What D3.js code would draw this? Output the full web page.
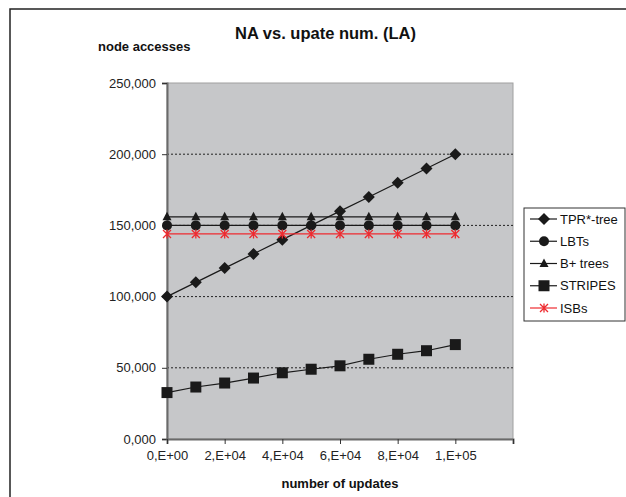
<!DOCTYPE html>
<html>
<head>
<meta charset="utf-8">
<script src="https://cdn.jsdelivr.net/npm/d3@7"></script>
<style>
  body { margin: 0; background: #fff; }
  svg { display: block; font-family: "Liberation Sans", Arial, sans-serif; }
</style>
</head>
<body>
<svg id="chart" width="626" height="497"></svg>
<script>
// data
const updates = [0, 10000, 20000, 30000, 40000, 50000, 60000, 70000, 80000, 90000, 100000]
const tprTree = [100000, 110000, 120000, 130000, 140000, 150000, 160000, 170000, 180000, 190000, 200000]
const lbts = [150000, 150000, 150000, 150000, 150000, 150000, 150000, 150000, 150000, 150000, 150000]
const bTrees = [156000, 156000, 156000, 156000, 156000, 156000, 156000, 156000, 156000, 156000, 156000]
const stripes = [32600, 36500, 39300, 42800, 46500, 49000, 51400, 56000, 59500, 62000, 66300]
const isbs = [144000, 144000, 144000, 144000, 144000, 144000, 144000, 144000, 144000, 144000, 144000]
const seriesNames = ["TPR*-tree", "LBTs", "B+ trees", "STRIPES", "ISBs"]
const yTicks = [0, 50000, 100000, 150000, 200000, 250000]
const yTickLabels = ["0,000", "50,000", "100,000", "150,000", "200,000", "250,000"]
const xTicks = [0, 20000, 40000, 60000, 80000, 100000, 120000]
const xTickLabels = ["0,E+00", "2,E+04", "4,E+04", "6,E+04", "8,E+04", "1,E+05", ""]

const series = [
  {name: seriesNames[0], values: tprTree, marker: "diamond", color: "#1a1a1a"},
  {name: seriesNames[1], values: lbts, marker: "circle", color: "#1a1a1a"},
  {name: seriesNames[2], values: bTrees, marker: "triangle", color: "#1a1a1a"},
  {name: seriesNames[3], values: stripes, marker: "square", color: "#1a1a1a"},
  {name: seriesNames[4], values: isbs, marker: "star", color: "#ee2a2f"}
]

const plot = {left: 167, top: 83, right: 513, bottom: 439}

const svg = d3.select("#chart")

// outer frame
svg.append("rect")
  .attr("x", 10).attr("y", 9)
  .attr("width", 640).attr("height", 520)
  .attr("fill", "none").attr("stroke", "#222").attr("stroke-width", 1.5)

const x = d3.scaleLinear().domain([0, 120000]).range([plot.left, plot.right])
const y = d3.scaleLinear().domain([0, 250000]).range([plot.bottom, plot.top])

// plot area
svg.append("rect")
  .attr("x", plot.left).attr("y", plot.top)
  .attr("width", plot.right - plot.left).attr("height", plot.bottom - plot.top)
  .attr("fill", "#c6c7c9").attr("stroke", "#a0a0a0").attr("stroke-width", 1)

// dotted gridlines
svg.append("g")
  .selectAll("line")
  .data(yTicks.filter(d => d > 0 && d < 250000))
  .join("line")
  .attr("x1", plot.left).attr("x2", plot.right)
  .attr("y1", d => y(d)).attr("y2", d => y(d))
  .attr("stroke", "#222").attr("stroke-dasharray", "2,2").attr("stroke-width", 1)

// axes
const yAxis = svg.append("g")
  .attr("transform", `translate(${plot.left},0)`)
  .call(d3.axisLeft(y).tickValues(yTicks).tickFormat((d, i) => yTickLabels[i]).tickSize(5).tickPadding(6))

const xAxis = svg.append("g")
  .attr("transform", `translate(0,${plot.bottom})`)
  .call(d3.axisBottom(x).tickValues(xTicks).tickFormat((d, i) => xTickLabels[i]).tickSize(5).tickPadding(7))

for (const ax of [yAxis, xAxis]) {
  ax.select(".domain").attr("stroke", "#6a6a6a").attr("stroke-width", 2)
  ax.selectAll(".tick line").attr("stroke", "#333")
  ax.selectAll("text").attr("fill", "#222").style("font-size", "13px")
}

// markers
function drawMarker(g, type, color) {
  if (type === "diamond") {
    g.append("path").attr("d", "M0,-6L6,0L0,6L-6,0Z").attr("fill", color)
  } else if (type === "circle") {
    g.append("circle").attr("r", 5).attr("fill", color)
  } else if (type === "triangle") {
    g.append("path").attr("d", "M0,-5L4.5,3.5L-4.5,3.5Z").attr("fill", color)
  } else if (type === "square") {
    g.append("rect").attr("x", -5.5).attr("y", -5.5).attr("width", 11).attr("height", 11).attr("fill", color)
  } else if (type === "star") {
    g.append("path").attr("d", "M-4,-4L4,4M-4,4L4,-4M0,-4.5L0,4.5")
      .attr("stroke", color).attr("stroke-width", 1.3).attr("fill", "none")
  }
}

const line = d3.line().x((d, i) => x(updates[i])).y(d => y(d))

series.forEach(s => {
  svg.append("path")
    .datum(s.values)
    .attr("d", line)
    .attr("fill", "none")
    .attr("stroke", s.color)
    .attr("stroke-width", 1.2)
  svg.append("g")
    .selectAll("g")
    .data(s.values)
    .join("g")
    .attr("transform", (d, i) => `translate(${x(updates[i])},${y(d)})`)
    .each(function () { drawMarker(d3.select(this), s.marker, s.color) })
})

// titles
svg.append("text")
  .attr("x", 235).attr("y", 39)
  .style("font-size", "16.5px").style("font-weight", "bold").attr("fill", "#111")
  .text("NA vs. upate num. (LA)")

svg.append("text")
  .attr("x", 98).attr("y", 51)
  .style("font-size", "13px").style("font-weight", "bold").attr("fill", "#111")
  .text("node accesses")

svg.append("text")
  .attr("x", (plot.left + plot.right) / 2).attr("y", 488)
  .attr("text-anchor", "middle")
  .style("font-size", "13px").style("font-weight", "bold").attr("fill", "#111")
  .text("number of updates")

// legend
const legend = svg.append("g").attr("transform", "translate(524,208)")
legend.append("rect")
  .attr("width", 101).attr("height", 113)
  .attr("fill", "#fff").attr("stroke", "#333").attr("stroke-width", 1)

const legendY = d3.scalePoint().domain(seriesNames).range([11, 100])
series.forEach(s => {
  const row = legend.append("g").attr("transform", `translate(0,${legendY(s.name)})`)
  row.append("line").attr("x1", 6).attr("x2", 33)
    .attr("stroke", s.color).attr("stroke-width", 1.2)
  drawMarker(row.append("g").attr("transform", "translate(20,0)"), s.marker, s.color)
  row.append("text").attr("x", 36).attr("y", 4.5)
    .style("font-size", "13px").attr("fill", "#111")
    .text(s.name)
})
</script>
</body>
</html>
